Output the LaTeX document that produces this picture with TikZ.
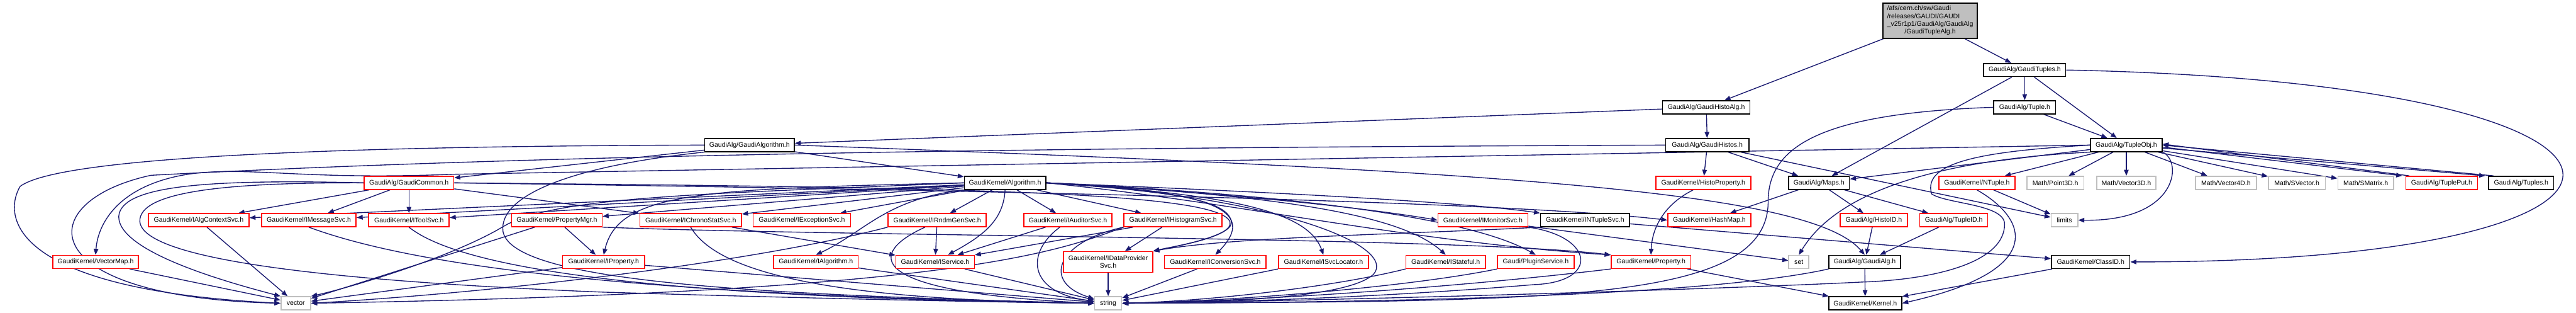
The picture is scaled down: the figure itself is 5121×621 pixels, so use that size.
\documentclass[tikz,border=0pt]{standalone}
\usepackage{fontspec}
\setmainfont{Liberation Sans}
\usetikzlibrary{arrows.meta}
\definecolor{edgecol}{HTML}{191970}
\definecolor{greyS}{HTML}{BFBFBF}
\pgfdeclarelayer{bg}
\pgfsetlayers{bg,main}
\tikzset{
  box/.style={rectangle, line width=1pt, fill=white, inner xsep=2pt, inner ysep=1pt,
     minimum height=13pt, font=\fontsize{6.6pt}{7.6pt}\selectfont, text=black},
  blk/.style={box, draw=black},
  redb/.style={box, draw=red},
  grayb/.style={box, draw=greyS},
  topb/.style={box, draw=black, fill=greyS},
  lnk/.style={draw=edgecol, line width=0.85pt, -{Triangle[length=6pt,width=4.6pt]}}
}
\newcommand{\gnode}[6]{\node[#2, minimum width=#5*0.5pt] (#1) at (#3,#4) {#6};}
\begin{document}
\begin{tikzpicture}[x=0.5pt,y=-0.5pt]
\useasboundingbox (0,0) rectangle (5121,621);
\begin{pgfonlayer}{bg}
\fill[white] (0,0) rectangle (5121,621);
\end{pgfonlayer}
% ---- nodes
\gnode{top}{topb, minimum height=35pt}{3837}{41}{188}{\begin{tabular}{@{}l@{}}/afs/cern.ch/sw/Gaudi\\/releases/GAUDI/GAUDI\\\_v25r1p1/GaudiAlg/GaudiAlg\\\multicolumn{1}{@{}c@{}}{/GaudiTupleAlg.h}\end{tabular}}
\gnode{gtuples}{blk}{4025}{139}{163}{GaudiAlg/GaudiTuples.h}
\gnode{histoalg}{blk}{3392}{213}{174}{GaudiAlg/GaudiHistoAlg.h}
\gnode{tuple}{blk}{4025}{213}{123}{GaudiAlg/Tuple.h}
\gnode{galgorithm}{blk}{1490}{288}{178}{GaudiAlg/GaudiAlgorithm.h}
\gnode{ghistos}{blk}{3394}{288}{166}{GaudiAlg/GaudiHistos.h}
\gnode{tupleobj}{blk}{4227}{288}{142}{GaudiAlg/TupleObj.h}
\gnode{gcommon}{redb}{813}{363}{178}{GaudiAlg/GaudiCommon.h}
\gnode{algorithm}{blk}{1998}{363}{162}{GaudiKernel/Algorithm.h}
\gnode{histoprop}{redb}{3386}{363}{189}{GaudiKernel/HistoProperty.h}
\gnode{maps}{blk}{3616}{363}{121}{GaudiAlg/Maps.h}
\gnode{ntuple}{redb}{3930}{363}{151}{GaudiKernel/NTuple.h}
\gnode{point3d}{grayb}{4086}{363}{113}{Math/Point3D.h}
\gnode{vector3d}{grayb}{4227}{363}{118}{Math/Vector3D.h}
\gnode{vector4d}{grayb}{4425}{363}{121}{Math/Vector4D.h}
\gnode{svector}{grayb}{4566}{363}{113}{Math/SVector.h}
\gnode{smatrix}{grayb}{4703}{363}{111}{Math/SMatrix.h}
\gnode{tupleput}{redb}{4854}{363}{143}{GaudiAlg/TuplePut.h}
\gnode{tuples}{blk}{5012}{363}{129}{GaudiAlg/Tuples.h}
\gnode{ialgctx}{redb}{395}{437}{200}{GaudiKernel/IAlgContextSvc.h}
\gnode{imsg}{redb}{614}{437}{188}{GaudiKernel/IMessageSvc.h}
\gnode{itool}{redb}{813}{437}{160}{GaudiKernel/IToolSvc.h}
\gnode{propmgr}{redb}{1107}{437}{180}{GaudiKernel/PropertyMgr.h}
\gnode{ichrono}{redb}{1373}{437}{202}{GaudiKernel/IChronoStatSvc.h}
\gnode{iexc}{redb}{1594}{437}{194}{GaudiKernel/IExceptionSvc.h}
\gnode{irndm}{redb}{1863}{437}{195}{GaudiKernel/IRndmGenSvc.h}
\gnode{iaud}{redb}{2123}{437}{175}{GaudiKernel/IAuditorSvc.h}
\gnode{ihist}{redb}{2332}{437}{195}{GaudiKernel/IHistogramSvc.h}
\gnode{imon}{redb}{2948}{437}{179}{GaudiKernel/IMonitorSvc.h}
\gnode{intuple}{blk}{3151}{437}{177}{GaudiKernel/INTupleSvc.h}
\gnode{hashmap}{redb}{3398}{437}{165}{GaudiKernel/HashMap.h}
\gnode{histoid}{redb}{3725}{437}{134}{GaudiAlg/HistoID.h}
\gnode{tupleid}{redb}{3884}{437}{135}{GaudiAlg/TupleID.h}
\gnode{limits}{grayb}{4104}{437}{53}{limits}
\gnode{vectormap}{redb}{190}{520}{170}{GaudiKernel/VectorMap.h}
\gnode{iprop}{redb}{1200}{520}{163}{GaudiKernel/IProperty.h}
\gnode{ialg}{redb}{1622}{520}{168}{GaudiKernel/IAlgorithm.h}
\gnode{iservice}{redb}{1859}{520}{156}{GaudiKernel/IService.h}
\gnode{idata}{redb, align=center, minimum height=20.5pt}{2203}{520}{177}{GaudiKernel/IDataProvider\\Svc.h}
\gnode{iconv}{redb}{2416}{520}{202}{GaudiKernel/IConversionSvc.h}
\gnode{isvcloc}{redb}{2631}{520}{179}{GaudiKernel/ISvcLocator.h}
\gnode{istateful}{redb}{2874}{520}{158}{GaudiKernel/IStateful.h}
\gnode{plugin}{redb}{3053}{520}{152}{Gaudi/PluginService.h}
\gnode{property}{redb}{3282}{520}{158}{GaudiKernel/Property.h}
\gnode{set}{grayb}{3576}{520}{40}{set}
\gnode{gaudialg}{blk}{3707}{520}{142}{GaudiAlg/GaudiAlg.h}
\gnode{classid}{blk}{4156}{520}{156}{GaudiKernel/ClassID.h}
\gnode{vector}{grayb}{588}{602}{59}{vector}
\gnode{string}{grayb}{2203}{602}{54}{string}
\gnode{kernel}{blk}{3708}{602}{145}{GaudiKernel/Kernel.h}
% ---- edges
\begin{pgfonlayer}{bg}
\draw[lnk] (top) -- (histoalg);
\draw[lnk] (top) -- (gtuples);
\draw[lnk] (histoalg) -- (ghistos);
\draw[lnk] (histoalg) -- (galgorithm);
\draw[lnk] (gtuples) -- (tuple);
\draw[lnk] (gtuples) -- (tupleobj);
\draw[lnk] (gtuples) -- (maps);
\draw[lnk] (gtuples.east) .. controls (5400,165) and (5400,520) .. (classid.east);
\draw[lnk] (tuple) -- (tupleobj);
\draw[lnk] (tuple.west) .. controls (3620,225) and (3515,290) .. (3515,400) .. controls (3515,600) and (3100,598) .. (string.east);
% TupleObj
\draw[lnk] (tupleobj) -- (maps);
\draw[lnk] (tupleobj) -- (ntuple);
\draw[lnk] (tupleobj) -- (point3d);
\draw[lnk] (tupleobj) -- (vector3d);
\draw[lnk] (tupleobj) -- (vector4d);
\draw[lnk] (tupleobj) -- (svector);
\draw[lnk] (tupleobj) -- (smatrix);
\draw[lnk] ([yshift=-2pt]tupleobj.east) -- ([xshift=-3pt]tupleput.north west);
\draw[lnk] ([xshift=4pt]tupleput.north west) -- ([yshift=1pt]tupleobj.east);
\draw[lnk] ([yshift=-3pt]tupleobj.east) -- ([xshift=-3pt]tuples.north west);
\draw[lnk] ([xshift=5pt]tuples.north west) -- ([yshift=0pt]tupleobj.east);
\draw[lnk] (tupleobj.south east) .. controls (4340,320) and (4330,440) .. (limits.east);
\draw[lnk] (tupleobj.south west) .. controls (3800,320) and (3640,400) .. (set.north);
\draw[lnk] (tupleobj.west) .. controls (3950,300) and (3820,320) .. (3840,385) .. controls (3870,405) and (3985,405) .. (3985,445) .. controls (3985,520) and (3850,555) .. (3700,560) .. controls (3400,575) and (2600,598) .. (string.east);
\draw[lnk] (tupleobj.west) -- (900,346) .. controls (600,358) and (500,330) .. (380,345) .. controls (240,365) and (195,440) .. (vectormap.north);
% GaudiHistos
\draw[lnk] (ghistos) -- (histoprop);
\draw[lnk] (ghistos) -- (maps);
\draw[lnk] (ghistos) -- (limits);
\draw[lnk] (ghistos.west) .. controls (2400,292) and (1200,300) .. (300,348) .. controls (60,400) and (60,590) .. (vector.west);
% GaudiAlgorithm
\draw[lnk] (galgorithm.west) .. controls (700,290) and (120,310) .. (40,370) .. controls (5,430) and (20,575) .. (vector.west);
\draw[lnk] (galgorithm) -- (gcommon);
\draw[lnk] (galgorithm) -- (algorithm);
\draw[lnk] (galgorithm.south west) .. controls (1130,330) and (990,390) .. (1000,460) .. controls (1020,560) and (1500,585) .. (string.west);
\draw[lnk] (galgorithm.east) .. controls (3000,340) and (3600,380) .. (gaudialg.north);
% Algorithm
\draw[lnk] (algorithm) -- (ialgctx);
\draw[lnk] (algorithm) -- (imsg);
\draw[lnk] (algorithm) -- (itool);
\draw[lnk] (algorithm) -- (propmgr);
\draw[lnk] (algorithm) -- (ichrono);
\draw[lnk] (algorithm) -- (iexc);
\draw[lnk] (algorithm) -- (irndm);
\draw[lnk] (algorithm) -- (iaud);
\draw[lnk] (algorithm) -- (ihist);
\draw[lnk] (algorithm.west) .. controls (1400,385) and (1100,390) .. (1000,450) .. controls (900,510) and (700,570) .. (vector.north east);
\draw[lnk] (algorithm.west) .. controls (1400,375) and (1230,380) .. (iprop.north);
\draw[lnk] (algorithm.south west) .. controls (1760,395) and (1720,460) .. (ialg.north);
\draw[lnk] (algorithm.south) .. controls (1995,440) and (1950,470) .. (iservice);
\draw[lnk] (algorithm.east) .. controls (2350,380) and (2440,400) .. (2448,440) .. controls (2452,470) and (2330,490) .. (idata.north east);
\draw[lnk] (algorithm.east) .. controls (2420,378) and (2500,420) .. (iconv.north);
\draw[lnk] (algorithm.east) .. controls (2400,380) and (2700,410) .. (imon.west);
\draw[lnk] (algorithm.east) .. controls (2500,380) and (2900,400) .. (intuple.north west);
\draw[lnk] (algorithm.east) .. controls (2450,385) and (2600,420) .. (isvcloc.north);
\draw[lnk] (algorithm.east) .. controls (2500,385) and (2780,420) .. (istateful.north);
\draw[lnk] (algorithm.east) .. controls (2550,385) and (2920,430) .. (plugin.north);
\draw[lnk] (algorithm.east) .. controls (2450,400) and (2800,480) .. (property.north west);
\draw[lnk] (algorithm.east) .. controls (2550,390) and (2780,490) .. (2730,545) .. controls (2680,590) and (2450,600) .. (string.east);
% GaudiCommon
\draw[lnk] (gcommon) -- (ialgctx);
\draw[lnk] (gcommon) -- (imsg);
\draw[lnk] (gcommon) -- (itool);
\draw[lnk] (gcommon) -- (ichrono);
\draw[lnk] (gcommon.west) .. controls (400,355) and (240,370) .. (236,430) .. controls (236,500) and (450,560) .. (vector.north west);
\draw[lnk] (gcommon.west) .. controls (450,362) and (275,380) .. (278,440) .. controls (285,520) and (700,560) .. (1200,580) .. controls (1700,595) and (2000,600) .. (string.west);
\draw[lnk] (gcommon.east) .. controls (2000,378) and (3000,400) .. (hashmap.west);
\draw[lnk] (gcommon.east) .. controls (1900,372) and (2420,380) .. (2445,440) .. controls (2455,470) and (2330,490) .. (idata.north east);
% row 437 sources
\draw[lnk] (ialgctx) -- (vector);
\draw[lnk] (vectormap) -- (vector);
\draw[lnk] (imsg.south) .. controls (800,520) and (1200,585) .. (string.west);
\draw[lnk] (itool.south) .. controls (900,520) and (1200,590) .. (string.west);
\draw[lnk] (propmgr) -- (iprop);
\draw[lnk] (propmgr) -- (vector);
\draw[lnk] (propmgr.south east) .. controls (1700,470) and (2900,470) .. (property.north west);
\draw[lnk] (ichrono) -- (iservice);
\draw[lnk] (ichrono.south) .. controls (1420,530) and (1600,595) .. (string.west);
\draw[lnk] (irndm) -- (iservice);
\draw[lnk] (irndm.south west) .. controls (1500,520) and (1000,580) .. (vector.east);
\draw[lnk] ([xshift=-12pt]irndm.south) .. controls (1730,500) and (1700,580) .. (string.west);
\draw[lnk] (iaud) -- (iservice);
\draw[lnk] ([xshift=-8pt]iaud.south) .. controls (2040,500) and (2040,580) .. (string);
\draw[lnk] (ihist) -- (iservice);
\draw[lnk] (ihist) -- (idata);
\draw[lnk] (ihist.south west) .. controls (2100,480) and (2070,560) .. (string);
\draw[lnk] (ihist.south west) .. controls (2100,500) and (1900,580) .. (vector.east);
\draw[lnk] (imon) -- (set);
\draw[lnk] (imon.south east) .. controls (3170,470) and (3180,560) .. (3050,565) .. controls (2750,590) and (2450,600) .. (string.east);
\draw[lnk] (intuple.south west) .. controls (2800,465) and (2450,470) .. (idata.north east);
\draw[lnk] (intuple) -- (classid);
\draw[lnk] ([xshift=-10pt]histoprop.south) .. controls (3320,400) and (3285,440) .. (property.north);
\draw[lnk] (maps) -- (hashmap);
\draw[lnk] (maps) -- (histoid);
\draw[lnk] (maps) -- (tupleid);
\draw[lnk] (histoid) -- (gaudialg);
\draw[lnk] (tupleid) -- (gaudialg);
\draw[lnk] (ntuple) -- (limits);
\draw[lnk] (ntuple.south) .. controls (4040,440) and (4060,540) .. (kernel.east);
% row 520 sources
\draw[lnk] (iprop) -- (vector);
\draw[lnk] (iprop) -- (string);
\draw[lnk] (ialg) -- (string);
\draw[lnk] (iservice) -- (string);
\draw[lnk] (idata) -- (string);
\draw[lnk] (iconv) -- (string);
\draw[lnk] (isvcloc.south west) -- (string);
\draw[lnk] (istateful.south west) .. controls (2650,570) and (2400,598) .. (string.east);
\draw[lnk] (plugin.south west) .. controls (2800,570) and (2450,598) .. (string.east);
\draw[lnk] (property.south west) .. controls (2900,570) and (2500,598) .. (string.east);
\draw[lnk] (property) -- (kernel);
\draw[lnk] (gaudialg) -- (kernel);
\draw[lnk] (gaudialg.south west) .. controls (3450,575) and (3000,600) .. (string.east);
\draw[lnk] (classid) -- (kernel);
\end{pgfonlayer}
\end{tikzpicture}
\end{document}
